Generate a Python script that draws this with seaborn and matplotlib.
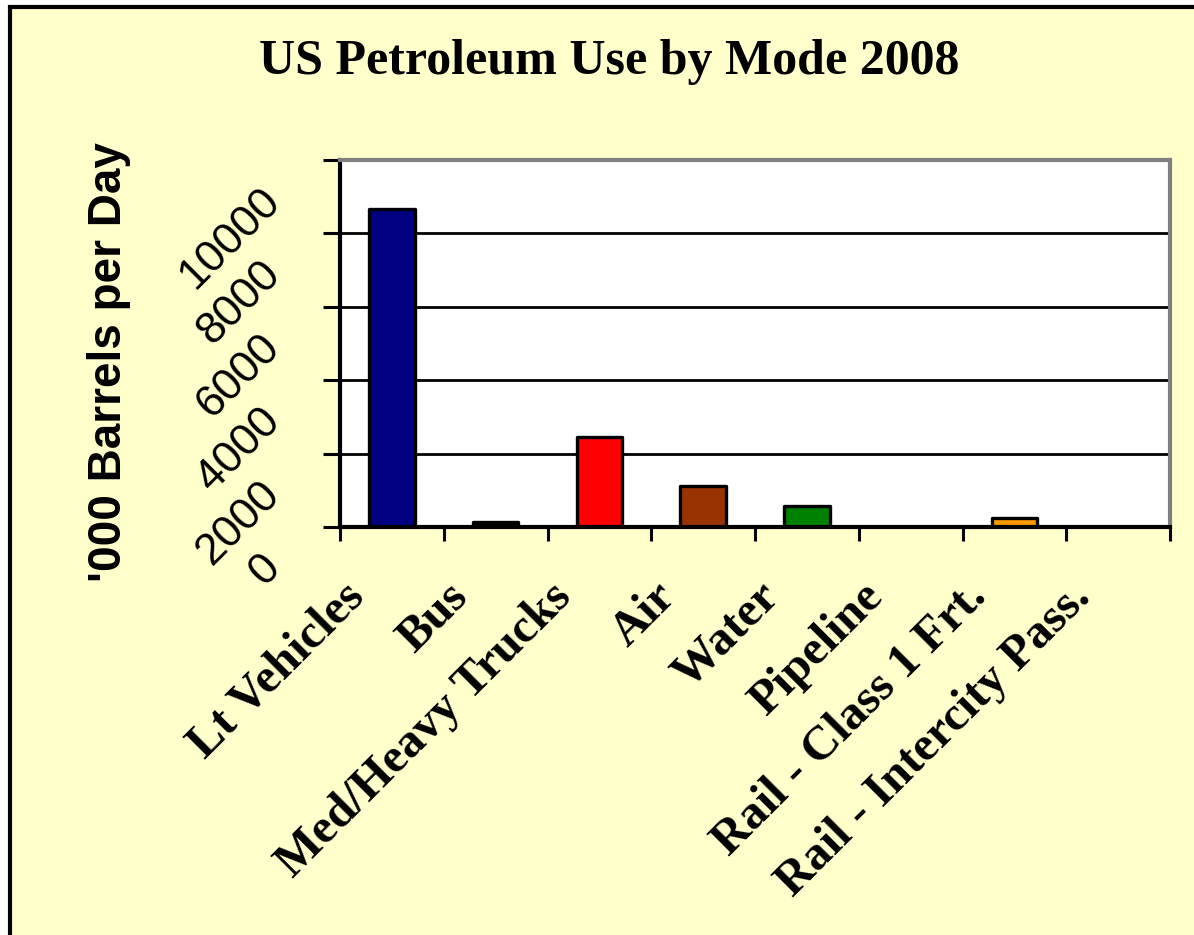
import numpy as np
import pandas as pd
import matplotlib
matplotlib.use("Agg")
import matplotlib.pyplot as plt
import matplotlib.transforms as mtransforms
from matplotlib.patches import Rectangle
import seaborn as sns

# ---- data ----
categories = ["Lt Vehicles", "Bus", "Med/Heavy Trucks", "Air", "Water",
              "Pipeline", "Rail - Class 1 Frt.", "Rail - Intercity Pass."]
values = [8660, 125, 2450, 1125, 560, 0, 235, 0]
bar_colors = ["#000080", "#000000", "#FF0000", "#993300", "#008000",
              "#333399", "#FF9900", "#808080"]
y_ticks = [0, 2000, 4000, 6000, 8000, 10000]
y_tick_labels = ["0", "2000", "4000", "6000", "8000", "10000"]
title = "US Petroleum Use by Mode 2008"
y_label = "'000 Barrels per Day"

df = pd.DataFrame({"mode": categories, "value": values})

sns.set_style("white")
plt.rcParams["font.family"] = ["Liberation Sans", "DejaVu Sans"]
plt.rcParams["text.color"] = "black"
plt.rcParams["axes.labelcolor"] = "black"
plt.rcParams["xtick.color"] = "black"
plt.rcParams["ytick.color"] = "black"
plt.rcParams["xtick.labelcolor"] = "black"
plt.rcParams["ytick.labelcolor"] = "black"

W, H = 1194, 935
fig = plt.figure(figsize=(W / 100, H / 100), dpi=100)
fig.patch.set_facecolor("white")

# light-yellow chart area with black frame (left & top visible)
bg = Rectangle((10 / W, -0.2), 1.5, 1.2 - 7 / H, transform=fig.transFigure,
               facecolor="#FFFFCC", edgecolor="black", linewidth=3, zorder=-10)
fig.patches.append(bg)

ax = fig.add_axes([340 / W, 1 - 527 / H, 830 / W, 367 / H])
ax.set_facecolor("white")

sns.barplot(data=df, x="mode", y="value", hue="mode", palette=bar_colors,
            legend=False, width=0.44, edgecolor="black", linewidth=2.4,
            saturation=1, ax=ax)
for p in ax.patches:
    p.set_joinstyle("round")

ax.set_xlim(-0.5, len(categories) - 0.5)
ax.set_ylim(0, 10000)

# grid
ax.set_axisbelow(True)
ax.yaxis.grid(True, color="black", linewidth=2)
ax.xaxis.grid(False)

# spines
for side in ["left", "bottom"]:
    ax.spines[side].set_color("black")
    ax.spines[side].set_linewidth(3)
for side in ["top", "right"]:
    ax.spines[side].set_color("#808080")
    ax.spines[side].set_linewidth(3)
    ax.spines[side].set_visible(True)

# y ticks
ax.set_yticks(y_ticks)
ax.set_yticklabels(y_tick_labels, rotation=45, ha="right", va="top",
                   fontsize=32, color="black",
                   family=["Liberation Sans", "DejaVu Sans"])
ax.tick_params(axis="y", direction="out", length=12, width=2.2,
               color="black", pad=25, left=True)

# x ticks: boundaries (major, no labels) + centers (minor, labels)
ax.set_xticks(np.arange(-0.5, len(categories), 1.0))
ax.set_xticklabels([""] * (len(categories) + 1))
ax.set_xticks(np.arange(len(categories)), minor=True)
ax.set_xticklabels(categories, minor=True, rotation=45, ha="right", va="top",
                   fontsize=35, fontweight="bold", color="black",
                   family=["Liberation Serif", "DejaVu Serif"])
ax.tick_params(axis="x", which="major", direction="out", length=10,
               width=2.2, color="black", bottom=True)
ax.tick_params(axis="x", which="minor", length=0, pad=34, bottom=True)
ax.set_xlabel("")

# y label
ax.set_ylabel(y_label, fontsize=33, fontweight="bold", color="black",
              family=["Liberation Sans", "DejaVu Sans"])
ax.yaxis.set_label_coords(-0.252, 0.45)

# offsets for rotated tick labels
off_y = mtransforms.ScaledTranslation(0, -0.2, fig.dpi_scale_trans)
for t in ax.yaxis.get_major_ticks():
    t.label1.set_transform(t.label1.get_transform() + off_y)
off_x = mtransforms.ScaledTranslation(-0.19, 0, fig.dpi_scale_trans)
for t in ax.xaxis.get_minor_ticks():
    t.label1.set_transform(t.label1.get_transform() + off_x)

# title
fig.text(609 / W, 1 - 74 / H, title, ha="center", va="baseline",
         fontsize=36, fontweight="bold", color="black",
         family=["Liberation Serif", "DejaVu Serif"])

fig.savefig("out.png", dpi=100, facecolor=fig.get_facecolor())
